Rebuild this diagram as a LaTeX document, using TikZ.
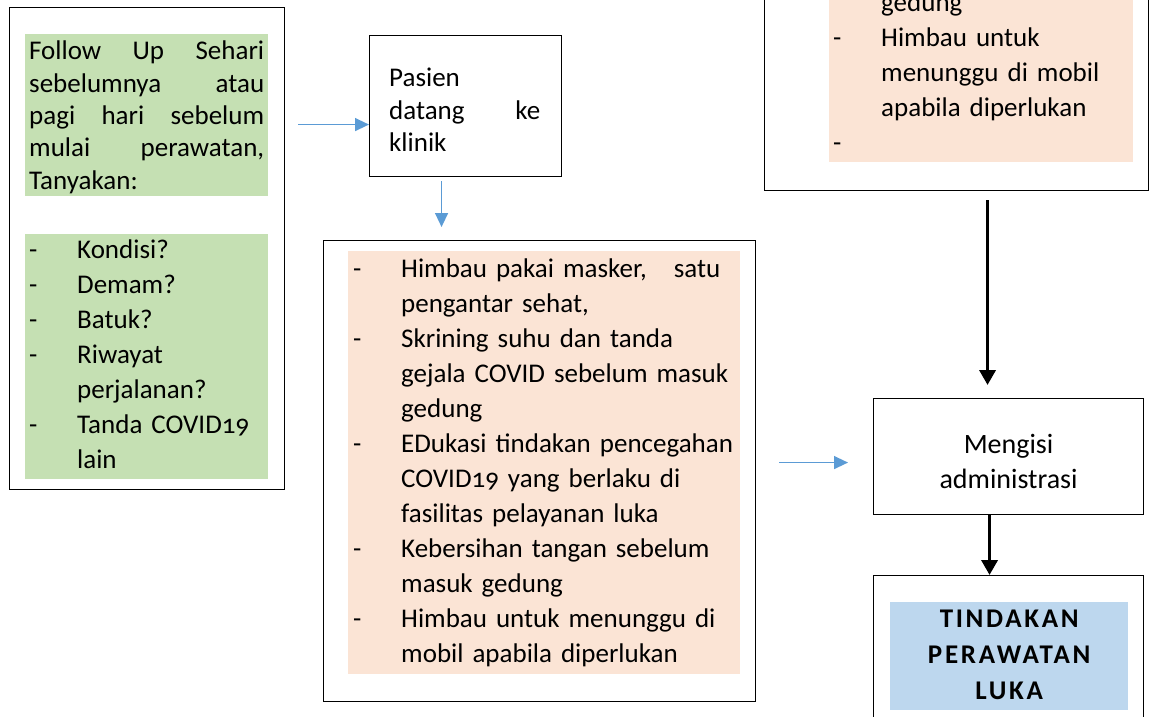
\documentclass[tikz,border=0pt]{standalone}
\usepackage{fontspec}
\setmainfont{Carlito}[Numbers=OldStyle]
\usepackage{tikz}
\usetikzlibrary{arrows.meta,positioning}
\definecolor{greenfill}{HTML}{C5E0B3}
\definecolor{peachfill}{HTML}{FBE4D5}
\definecolor{bluefill}{HTML}{BDD7EE}
\definecolor{arrowblue}{HTML}{5B9BD5}
\newcommand{\dashline}[1]{\makebox[48pt][l]{-}#1}
\newcommand{\hangline}[1]{\hspace*{48pt}#1}

\begin{document}
\begin{tikzpicture}[x=1pt,y=-1pt,
  frame/.style={draw,line width=1.1pt,inner sep=0pt},
  shade/.style={inner xsep=4pt,inner ysep=0pt,align=left,anchor=north west,
    font=\fontsize{27}{35}\selectfont},
  flow/.style={-{Triangle[length=14pt,width=13pt]},draw=arrowblue,line width=1.4pt},
  bigflow/.style={-{Triangle[length=15pt,width=16pt]},line width=3.5pt}]
  \useasboundingbox (0,0) rectangle (1149,716);
  \clip (0,0) rectangle (1149,716);

  % follow up sehari sebelumnya
  \node[frame,minimum width=275pt,minimum height=482pt,anchor=north west] (tanya) at (9,7) {};
  \node[shade,fill=greenfill,text width=235pt,inner ysep=3pt,
    font=\fontsize{27}{32.3}\selectfont] (followup) at (25,34)
    {\strut Follow\hfill Up\hfill Sehari\\ sebelumnya\hfill atau\\ pagi\hfill hari\hfill sebelum\\
     mulai\hfill perawatan,\\ Tanyakan:\rule[-4pt]{0pt}{4pt}};
  \node[shade,fill=greenfill,text width=235pt] (gejala) at (25,234)
    {\strut\dashline{Kondisi?}\\ \dashline{Demam?}\\ \dashline{Batuk?}\\ \dashline{Riwayat}\\
     \hangline{perjalanan?}\\ \dashline{Tanda COVID19}\\ \hangline{lain}\strut};

  % pasien datang
  \node[frame,minimum width=192pt,minimum height=141pt,anchor=north west] (datang) at (369,35) {};
  \node[shade,text width=151pt,font=\fontsize{27}{32.5}\selectfont,inner sep=0pt,
    below right=29pt and 20pt of datang.north west] (pasien)
    {\strut Pasien\\ datang\hfill ke\\ klinik\strut};

  % skrining
  \node[frame,minimum width=432pt,minimum height=461pt,anchor=north west] (cegahframe) at (323,240) {};
  \node[shade,fill=peachfill,text width=382pt,inner xsep=5pt,inner ysep=1.5pt] (cegah) at (348,251)
    {\strut\dashline{Himbau pakai masker,\ \ \ satu}\\ \hangline{pengantar sehat,}\\
     \dashline{Skrining suhu dan tanda}\\ \hangline{gejala COVID sebelum masuk}\\ \hangline{gedung}\\
     \dashline{EDukasi tindakan pencegahan}\\ \hangline{COVID19 yang berlaku di}\\
     \hangline{fasilitas pelayanan luka}\\ \dashline{Kebersihan tangan sebelum}\\
     \hangline{masuk gedung}\\ \dashline{Himbau untuk menunggu di}\\
     \hangline{mobil apabila diperlukan}\strut};

  % kotak kanan atas
  \node[frame,minimum width=384pt,minimum height=400pt,anchor=south west] (jagaframe) at (764,191) {};
  \node[shade,fill=peachfill,text width=296pt,anchor=south west] (jaga) at (829,162)
    {\strut\hangline{gedung}\\ \dashline{Himbau untuk}\\ \hangline{menunggu di mobil}\\
     \hangline{apabila diperlukan}\\ -\strut};

  % administrasi
  \node[frame,minimum width=270pt,minimum height=116pt,anchor=north west] (admin) at (873,398) {};
  \node[align=center,font=\fontsize{28}{35}\selectfont,inner sep=0pt] (admintext)
    at ([yshift=-7.5pt]admin.center) {\strut Mengisi\\ administrasi\strut};

  % tindakan
  \node[frame,minimum width=270pt,minimum height=200pt,anchor=north west] (lukaframe) at (873,575) {};
  \node[fill=bluefill,minimum width=238pt,minimum height=107pt,anchor=north west,align=center,
    inner sep=0pt,font=\bfseries\fontsize{27}{36}\selectfont\addfontfeature{LetterSpace=10}] (luka)
    at (890,602) {\strut TINDAKAN\\ PERAWATAN\\ LUKA\strut};

  \coordinate (inpasien) at ([yshift=-18.5pt]datang.west);
  \coordinate (outpasien) at ([xshift=-24pt]datang.south);
  \coordinate (inadmin) at ([yshift=-6pt]admin.west);

  \draw[flow,shorten <=13pt] (tanya.east |- inpasien) -- (inpasien);
  \draw[flow,shorten <=4pt,shorten >=13pt] (outpasien) -- (outpasien |- cegahframe.north);
  \draw[flow,shorten <=23pt,shorten >=25pt] (cegahframe.east |- inadmin) -- (inadmin);
  \draw[bigflow,shorten <=9pt,shorten >=13pt] ([xshift=-21pt]admin.north |- jagaframe.south)
    -- ([xshift=-21pt]admin.north);
  \draw[bigflow] ([xshift=-19pt]admin.south) -- ([xshift=-19pt]admin.south |- lukaframe.north);
\end{tikzpicture}
\end{document}
